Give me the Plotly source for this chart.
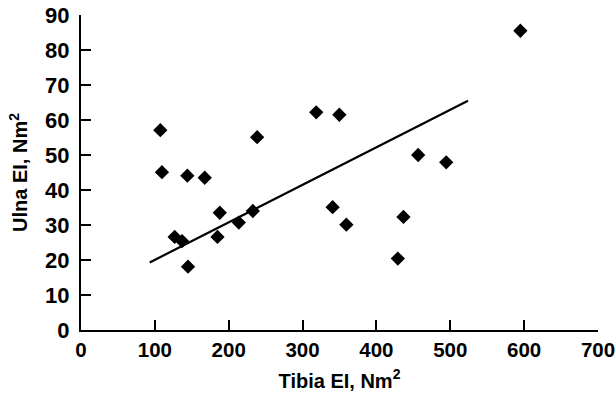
import plotly.graph_objects as go

tibia_ei = [107.4, 109.6, 144.0, 167.5, 238.5, 318.5, 349.8, 594.9, 456.5, 494.5,
            187.9, 126.8, 136.8, 184.8, 213.7, 232.7, 144.9, 340.7, 359.3, 436.6, 429.0]
ulna_ei = [57.1, 45.1, 44.1, 43.5, 55.1, 62.2, 61.5, 85.5, 50.0, 47.9,
           33.5, 26.6, 25.4, 26.6, 30.7, 34.0, 18.1, 35.1, 30.1, 32.3, 20.4]
fit_x = [93, 524]
fit_y = [19.3, 65.5]
x_ticks = [0, 100, 200, 300, 400, 500, 600, 700]
y_ticks = [0, 10, 20, 30, 40, 50, 60, 70, 80, 90]

FAM = "Liberation Sans, Arial, Helvetica, sans-serif"

fig = go.Figure()
fig.add_trace(go.Scatter(x=fit_x, y=fit_y, mode="lines",
                         line=dict(color="black", width=2.2), showlegend=False))
fig.add_trace(go.Scatter(x=tibia_ei, y=ulna_ei, mode="markers",
                         marker=dict(symbol="diamond", size=11, color="black"),
                         showlegend=False))

fig.update_layout(
    width=616, height=395,
    margin=dict(l=81, r=18, t=15, b=65),
    paper_bgcolor="white", plot_bgcolor="white",
    font=dict(family=FAM, size=20, color="black"),
    xaxis=dict(range=[0, 700], tickvals=x_ticks,
               ticktext=[f"<b>{v}</b>" for v in x_ticks],
               ticks="inside", ticklen=10, automargin=False,
               tickwidth=2, tickcolor="black", showline=True, linecolor="black",
               linewidth=2, showgrid=False, zeroline=False,
               tickfont=dict(family=FAM, size=20.5, color="black"),
               title=dict(text="<b>Tibia EI, Nm<sup>2</sup></b>", standoff=14,
                          font=dict(family=FAM, size=20, color="black"))),
    yaxis=dict(range=[0, 90], tickvals=y_ticks,
               ticktext=[f"<b>{v}</b>" for v in y_ticks],
               ticks="inside", ticklen=10, automargin=False,
               ticklabelstandoff=5,
               tickwidth=2, tickcolor="black", showline=True, linecolor="black",
               linewidth=2, showgrid=False, zeroline=False,
               tickfont=dict(family=FAM, size=22, color="black"),
               title=dict(text="<b>Ulna EI, Nm<sup>2</sup></b>", standoff=12,
                          font=dict(family=FAM, size=20, color="black"))),
)

fig.write_html("out.html")
